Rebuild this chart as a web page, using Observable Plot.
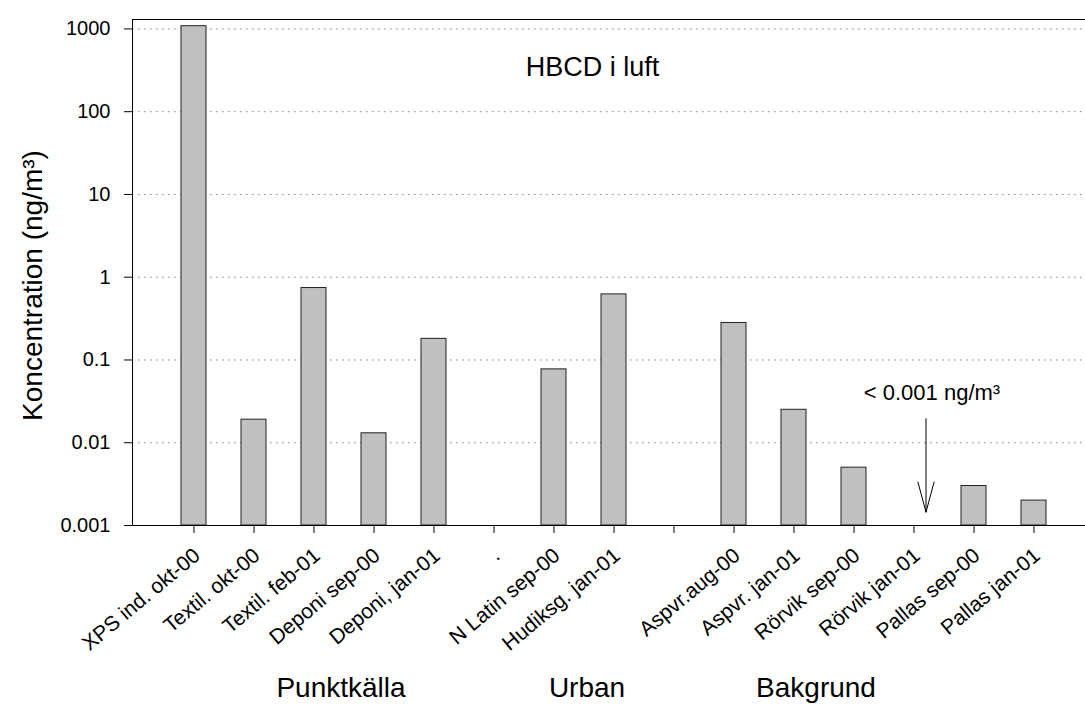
<!DOCTYPE html>
<html>
<head>
<meta charset="utf-8">
<script src="https://cdn.jsdelivr.net/npm/d3@7"></script>
<script src="https://cdn.jsdelivr.net/npm/@observablehq/plot@0.6"></script>
<style>
  html, body { margin: 0; padding: 0; background: #fff; overflow: hidden; }
</style>
</head>
<body>
<div id="chart"></div>
<script>
// Sampling sites (category order along the x axis); "." and " " are empty slots
const sites = [
  "XPS ind. okt-00", "Textil. okt-00", "Textil. feb-01", "Deponi sep-00", "Deponi, jan-01",
  ".", "N Latin sep-00", "Hudiksg. jan-01", " ",
  "Aspvr.aug-00", "Aspvr. jan-01", "Rörvik sep-00", "Rörvik jan-01", "Pallas sep-00", "Pallas jan-01"
];
// HBCD concentration in air, ng/m3 (null = no bar)
const concentrations = [
  1080, 0.019, 0.74, 0.013, 0.18,
  null, 0.077, 0.62, null,
  0.28, 0.025, 0.005, null, 0.003, 0.002
];
const yTicks = [0.001, 0.01, 0.1, 1, 10, 100, 1000];
const yDomain = [0.001, 1300];

// Site groups written under the axis labels
const groupNames = ["Punktkälla", "Urban", "Bakgrund"];
const groupAnchors = ["Textil. feb-01", "N Latin sep-00", "Aspvr. jan-01"];
const groupShift = [27, 33, 22];

// Below-detection note for Rörvik jan-01
const noteSite = "Rörvik jan-01";
const noteText = "< 0.001 ng/m³";
const noteY = 0.04;
const arrowFrom = 0.0195;
const arrowTo = 0.00145;

const title = "HBCD i luft";
const yTitle = "Koncentration (ng/m³)";

const rows = sites
  .map((site, i) => ({site, value: concentrations[i]}))
  .filter(d => d.value != null);

const font = "'Liberation Sans', Arial, Helvetica, sans-serif";

const chart = Plot.plot({
  width: 1100,
  height: 704,
  marginLeft: 132,
  marginRight: 6,
  marginTop: 19,
  marginBottom: 179,
  style: {fontFamily: font, fontSize: "20px", color: "#000", background: "#fff", maxWidth: "none"},
  x: {
    type: "band",
    domain: sites,
    paddingInner: 0.585,
    paddingOuter: 0.784,
    align: 0.5,
    label: null,
    tickSize: 8,
    tickFormat: () => ""
  },
  y: {
    type: "log",
    domain: yDomain,
    ticks: yTicks,
    tickFormat: d => String(d),
    tickSize: 8,
    tickPadding: 14,
    label: null
  },
  marks: [
    // dotted decade grid
    Plot.ruleY(yTicks.slice(1), {stroke: "#808080", strokeWidth: 1, strokeDasharray: "1.5,4.5"}),
    // bars from the bottom of the log axis
    Plot.barY(rows, {x: "site", y1: yDomain[0], y2: "value", fill: "#c0c0c0", stroke: "#222", strokeWidth: 1}),
    Plot.frame({stroke: "#000", strokeWidth: 1}),
    // slanted site labels under the ticks
    Plot.text(sites, {
      x: d => d, frameAnchor: "bottom", text: d => d,
      rotate: -40, textAnchor: "end", lineAnchor: "middle",
      dx: 3, dy: 27, fontSize: 21, fill: "#000"
    }),
    // chart title inside the frame
    Plot.text([title], {frameAnchor: "top", textAnchor: "middle", lineAnchor: "middle", dx: -21, dy: 48, fontSize: 27, fill: "#000"}),
    // y axis title
    Plot.text([yTitle], {frameAnchor: "left", textAnchor: "middle", lineAnchor: "middle", rotate: -90, dx: -99, dy: 13, fontSize: 28, fill: "#000"}),
    // detection-limit note and arrow
    Plot.text([noteText], {x: () => noteSite, y: () => noteY, dx: 18, textAnchor: "middle", lineAnchor: "middle", fontSize: 22, fill: "#000"}),
    Plot.arrow([noteSite], {
      x1: d => d, x2: d => d, y1: () => arrowFrom, y2: () => arrowTo,
      dx: 12, stroke: "#000", strokeWidth: 1, headLength: 60, headAngle: 30
    }),
    // group names
    ...groupNames.map((name, i) =>
      Plot.text([name], {
        x: () => groupAnchors[i], frameAnchor: "bottom", textAnchor: "middle", lineAnchor: "middle",
        dx: groupShift[i], dy: 163, fontSize: 28, fill: "#000"
      })
    )
  ]
});

document.getElementById("chart").appendChild(chart);
</script>
</body>
</html>
